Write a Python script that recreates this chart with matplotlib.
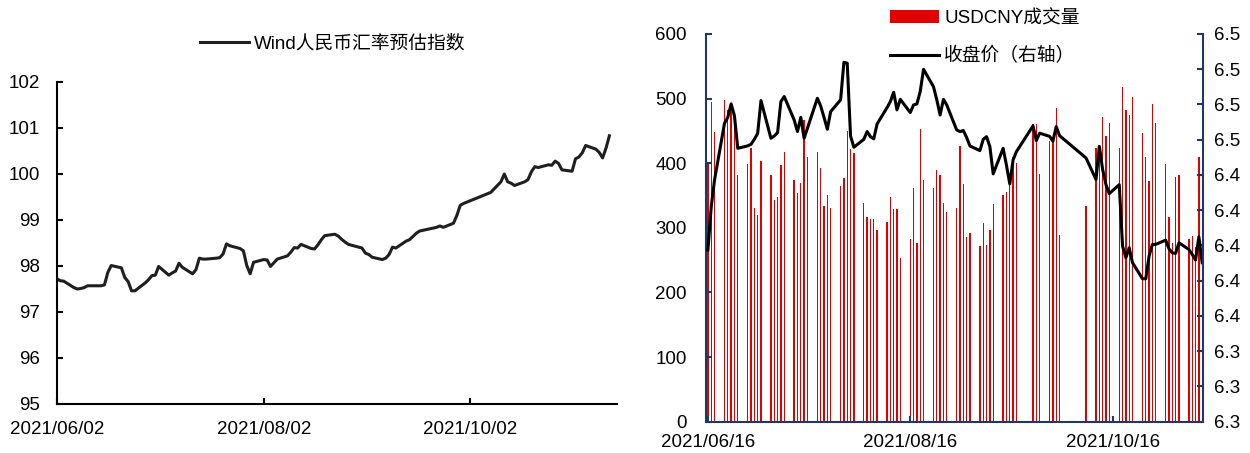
import matplotlib
matplotlib.use('Agg')
import matplotlib.pyplot as plt
import matplotlib.dates as mdates
from matplotlib.ticker import FormatStrFormatter
import numpy as np
import pandas as pd

plt.rcParams['font.family'] = ['Liberation Sans', 'Noto Sans CJK SC']
plt.rcParams['font.size'] = 13.5

# 节假日（非交易日）
holidays = pd.to_datetime(['2021-06-14', '2021-09-20', '2021-09-21',
                           '2021-10-01', '2021-10-04', '2021-10-05',
                           '2021-10-06', '2021-10-07'])


def trading_days(start, end):
    d = pd.bdate_range(start, end)
    return d[~d.isin(holidays)]


# 左图：Wind人民币汇率预估指数
idx_dates = trading_days('2021-06-02', '2021-11-12')
wind_index = [
    97.72, 97.68, 97.67,
    97.53, 97.50, 97.51, 97.53, 97.57,
    97.57, 97.59, 97.86, 98.01,
    97.96, 97.75, 97.66, 97.46, 97.46,
    97.63, 97.70, 97.79, 97.80, 97.99,
    97.80, 97.85, 97.89, 98.06, 97.97,
    97.83, 97.92, 98.17, 98.15, 98.15,
    98.17, 98.18, 98.26, 98.48, 98.44,
    98.38, 98.33, 98.01, 97.83, 98.08,
    98.14, 98.13, 97.99, 98.07, 98.15,
    98.22, 98.30, 98.40, 98.39, 98.47,
    98.38, 98.37, 98.46, 98.57, 98.66,
    98.69, 98.65, 98.58, 98.52, 98.47,
    98.41, 98.39, 98.28, 98.25, 98.19,
    98.14, 98.17, 98.25, 98.41, 98.39,
    98.54, 98.57, 98.64, 98.71, 98.76,
    98.84, 98.87, 98.84,
    98.93, 99.10, 99.32, 99.36,
    99.60,
    99.83, 100.00, 99.83, 99.80, 99.75,
    99.83, 99.88, 100.05, 100.16, 100.14,
    100.20, 100.19, 100.28, 100.23, 100.09,
    100.06, 100.33, 100.37, 100.46, 100.62,
    100.54, 100.47, 100.35, 100.56, 100.83,
]

# 右图：USDCNY成交量与收盘价
fx_dates = trading_days('2021-06-16', '2021-11-12')
volume = [
    400, 495, 448,
    498, 482, 485, 471, 381,
    399, 424, 331, 320, 403,
    381, 343, 347, 397, 417,
    374, 354, 370, 467, 410,
    417, 392, 333, 351, 331,
    364, 377, 450, 422, 416,
    339, 316, 313, 313, 296,
    309, 347, 329, 329, 253,
    283, 361, 276, 453, 374,
    362, 390, 381, 338, 325,
    330, 427, 368, 286, 292,
    272, 307, 273, 297, 337,
    351, 355, 368, 409, 401,
    460, 461, 383,
    434, 440, 485, 289,
    334,
    424, 418, 472, 442, 462,
    424, 518, 482, 474, 503,
    446, 410, 373, 492, 462,
    399, 317, 277, 378, 381,
    282, 288, 271, 409, 305,
]
close = [
    6.3974, 6.4220, 6.4372,
    6.4693, 6.4727, 6.4803, 6.4735, 6.4551,
    6.4565, 6.4574, 6.4602, 6.4636, 6.4822,
    6.4608, 6.4621, 6.4640, 6.4816, 6.4845,
    6.4712, 6.4646, 6.4727, 6.4608, 6.4665,
    6.4835, 6.4791, 6.4727, 6.4659, 6.4759,
    6.4826, 6.5039, 6.5034, 6.4621, 6.4557,
    6.4602, 6.4646, 6.4617, 6.4605, 6.4689,
    6.4782, 6.4816, 6.4869, 6.4769, 6.4829,
    6.4754, 6.4797, 6.4803, 6.4873, 6.4999,
    6.4901, 6.4826, 6.4740, 6.4829, 6.4797,
    6.4655, 6.4646, 6.4652, 6.4612, 6.4564,
    6.4538, 6.4602, 6.4617, 6.4561, 6.4406,
    6.4551, 6.4455, 6.4349, 6.4485, 6.4532,
    6.4678, 6.4595, 6.4637,
    6.4619, 6.4591, 6.4675, 6.4623,
    6.4496,
    6.4374, 6.4562, 6.4430, 6.4345, 6.4294,
    6.4345, 6.3996, 6.3930, 6.3987, 6.3902,
    6.3811, 6.3811, 6.3940, 6.4006, 6.4006,
    6.4030, 6.3981, 6.3958, 6.3955, 6.4015,
    6.3977, 6.3949, 6.3917, 6.4049, 6.3902,
]

navy = '#1F3864'
fig = plt.figure(figsize=(12.5, 4.53), dpi=100)

# ---- 左图 ----
ax1 = fig.add_axes([0.0456, 0.1082, 0.448, 0.7108])
ax1.plot(idx_dates, wind_index, color='#1f1f1f', lw=2.2,
         label='Wind人民币汇率预估指数')
ax1.set_ylim(95, 102)
ax1.set_yticks(range(95, 103))
ax1.set_xlim(pd.Timestamp('2021-06-02'), pd.Timestamp('2021-11-14 06:00'))
ax1.set_xticks(pd.to_datetime(['2021-06-02', '2021-08-02', '2021-10-02']))
ax1.xaxis.set_major_formatter(mdates.DateFormatter('%Y/%m/%d'))
for s in ['top', 'right']:
    ax1.spines[s].set_visible(False)
for s in ['left', 'bottom']:
    ax1.spines[s].set_linewidth(1.5)
ax1.tick_params(axis='both', direction='in', length=4, width=1.5)
ax1.tick_params(axis='y', pad=12)
ax1.tick_params(axis='x', pad=12)
ax1.legend(loc='upper left', bbox_to_anchor=(0.16, 0.923),
           bbox_transform=fig.transFigure, frameon=False,
           handlelength=2.6, handletextpad=0.3, borderpad=0, borderaxespad=0)

# ---- 右图 ----
ax2 = fig.add_axes([0.565, 0.0691, 0.3974, 0.856])
bars = ax2.bar(fx_dates, volume, width=0.4, color='#E00000',
               label='USDCNY成交量')
ax2.set_ylim(0, 600)
ax2.set_yticks(range(0, 601, 100))
ax2.set_xlim(pd.Timestamp('2021-06-15 12:00'), pd.Timestamp('2021-11-12 06:00'))
ax2.set_xticks(pd.to_datetime(['2021-06-16', '2021-08-16', '2021-10-16']))
ax2.xaxis.set_major_formatter(mdates.DateFormatter('%Y/%m/%d'))

ax3 = ax2.twinx()
line, = ax3.plot(fx_dates, close, color='black', lw=2.2, label='收盘价（右轴）')
ax3.set_ylim(6.30, 6.52)
ax3.set_yticks(np.arange(6.30, 6.5201, 0.02))
ax3.yaxis.set_major_formatter(FormatStrFormatter('%.1f'))

for a in (ax2, ax3):
    a.spines['top'].set_visible(False)
    for s in ['left', 'right', 'bottom']:
        a.spines[s].set_color(navy)
        a.spines[s].set_linewidth(1.5)
ax2.spines['right'].set_visible(False)
ax3.spines['left'].set_visible(False)
ax3.spines['bottom'].set_visible(False)

ax2.tick_params(axis='both', direction='in', length=4, width=1.5, color=navy)
ax2.tick_params(axis='y', pad=14)
ax2.tick_params(axis='x', pad=9)
ax3.tick_params(axis='y', direction='in', length=4, width=1.5, color=navy, pad=8)

fig.legend([bars, line], ['USDCNY成交量', '收盘价（右轴）'],
           loc='upper left', bbox_to_anchor=(0.712, 0.978), frameon=False,
           handlelength=2.6, handletextpad=0.3, labelspacing=1.05,
           borderpad=0, borderaxespad=0)

fig.savefig('out.png', dpi=100)
